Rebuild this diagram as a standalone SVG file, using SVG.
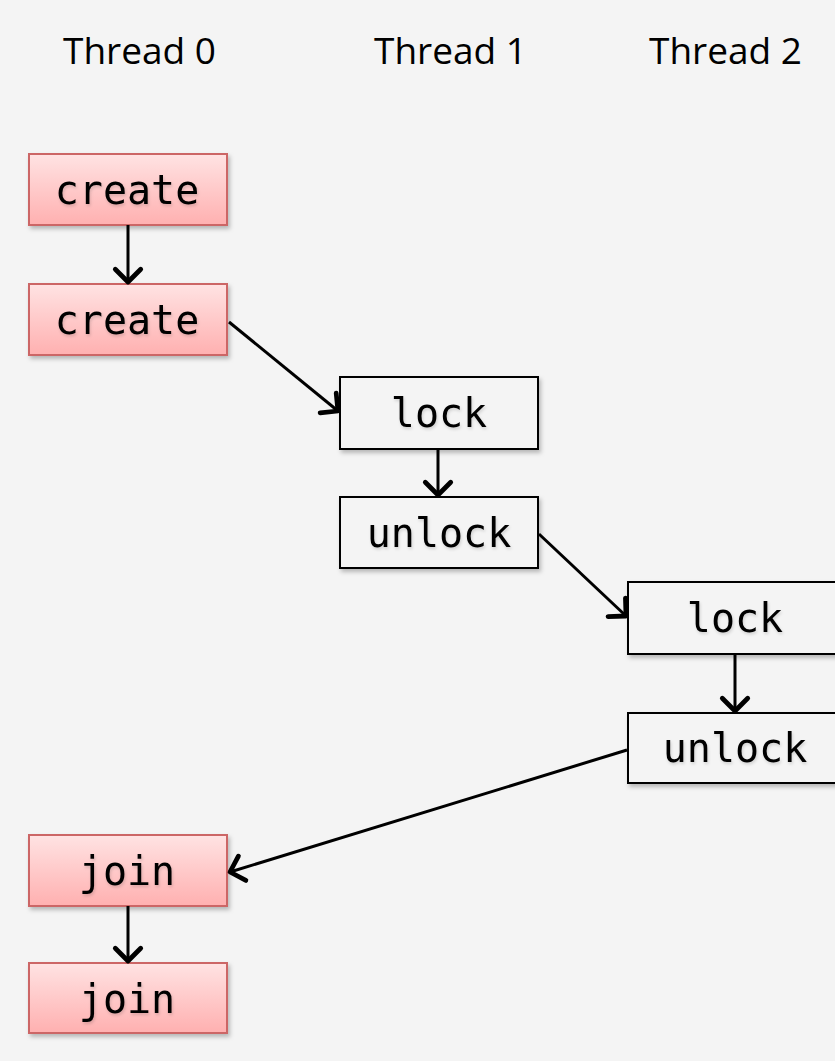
<svg xmlns="http://www.w3.org/2000/svg" width="835" height="1061" viewBox="0 0 835 1061">
  <defs>
    <linearGradient id="pink" x1="0" y1="0" x2="0" y2="1">
      <stop offset="0" stop-color="#ffe3e3"/>
      <stop offset="1" stop-color="#ffb0b0"/>
    </linearGradient>
    <filter id="shadow" x="-10%" y="-10%" width="130%" height="140%">
      <feDropShadow dx="2" dy="3" stdDeviation="2" flood-color="#000" flood-opacity="0.25"/>
    </filter>
    <filter id="tshadow" x="-10%" y="-20%" width="130%" height="150%">
      <feDropShadow dx="1" dy="2" stdDeviation="1.5" flood-color="#000" flood-opacity="0.15"/>
    </filter>
    <marker id="arrow" markerUnits="userSpaceOnUse" markerWidth="36" markerHeight="36" viewBox="-17 -17 34 34" refX="0" refY="0" orient="auto">
      <path d="M-12,-12 L0,0 L-12,12" fill="none" stroke="#000" stroke-width="4.5" stroke-linecap="round" stroke-linejoin="round"/>
    </marker>
    <style>
      .hdr { font-family: "Open Sans", "Liberation Sans", sans-serif; font-size: 37px; fill: #000; }
      .sys { fill: url(#pink); stroke: #cc6666; stroke-width: 2; filter: url(#shadow); }
      .op { fill: #f4f4f4; stroke: #000; stroke-width: 2; filter: url(#shadow); }
      .lbl { font-family: "DejaVu Sans Mono", "Liberation Mono", monospace; font-size: 40px; fill: #000; text-anchor: middle; filter: url(#tshadow); }
      .edge { fill: none; stroke: #000; stroke-width: 3; marker-end: url(#arrow); }
    </style>
  </defs>

  <rect x="0" y="0" width="835" height="1061" fill="#f4f4f4"/>

  <!-- column headers -->
  <text class="hdr" x="63" y="64">Thread 0</text>
  <text class="hdr" x="374" y="64">Thread 1</text>
  <text class="hdr" x="649" y="64">Thread 2</text>

  <!-- thread 0: creates -->
  <g id="create1">
    <rect class="sys" x="29" y="154" width="198" height="71"/>
    <text class="lbl" x="127" y="204">create</text>
  </g>
  <g id="create2">
    <rect class="sys" x="29" y="284" width="198" height="71"/>
    <text class="lbl" x="127" y="334">create</text>
  </g>

  <!-- thread 1 -->
  <g id="lock1">
    <rect class="op" x="340" y="377" width="198" height="72"/>
    <text class="lbl" x="439" y="427">lock</text>
  </g>
  <g id="unlock1">
    <rect class="op" x="340" y="497" width="198" height="71"/>
    <text class="lbl" x="439" y="547">unlock</text>
  </g>

  <!-- thread 2 -->
  <g id="lock2">
    <rect class="op" x="628" y="582" width="220" height="72"/>
    <text class="lbl" x="735" y="632">lock</text>
  </g>
  <g id="unlock2">
    <rect class="op" x="628" y="713" width="220" height="70"/>
    <text class="lbl" x="735" y="762">unlock</text>
  </g>

  <!-- thread 0: joins -->
  <g id="join1">
    <rect class="sys" x="29" y="835" width="198" height="71"/>
    <text class="lbl" x="127" y="885">join</text>
  </g>
  <g id="join2">
    <rect class="sys" x="29" y="963" width="198" height="70"/>
    <text class="lbl" x="127" y="1013">join</text>
  </g>

  <!-- happens-before edges -->
  <g id="edges">
    <line class="edge" x1="128" y1="225" x2="128" y2="282"/>
    <line class="edge" x1="229" y1="322" x2="338" y2="411"/>
    <line class="edge" x1="438" y1="449" x2="438" y2="495"/>
    <line class="edge" x1="539" y1="534" x2="626" y2="616"/>
    <line class="edge" x1="735" y1="654" x2="735" y2="711"/>
    <line class="edge" x1="627" y1="750" x2="230" y2="872"/>
    <line class="edge" x1="128" y1="906" x2="128" y2="961"/>
  </g>
</svg>
